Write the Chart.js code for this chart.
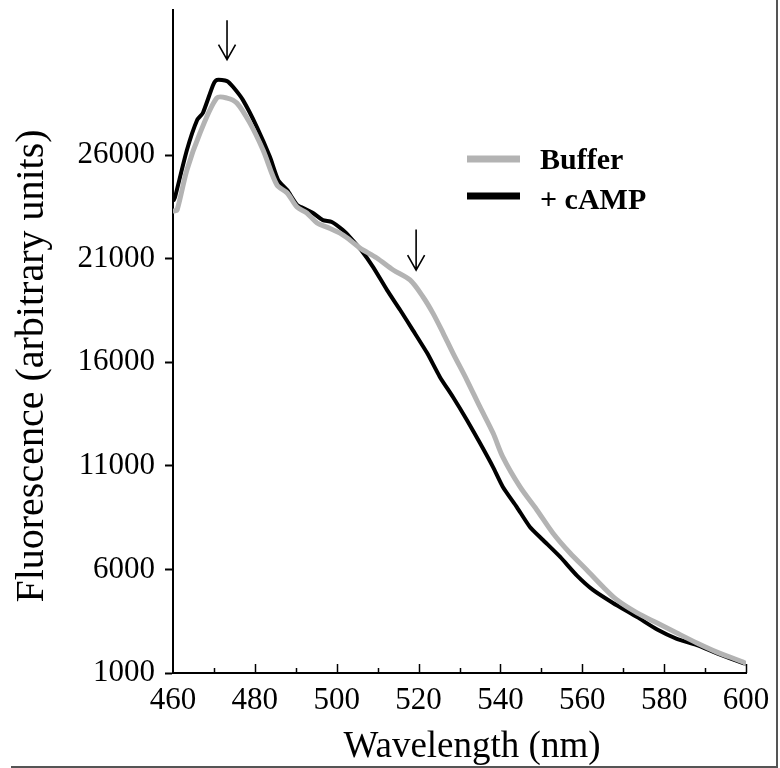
<!DOCTYPE html>
<html>
<head>
<meta charset="utf-8">
<script src="https://cdn.jsdelivr.net/npm/chart.js@4.4.0/dist/chart.umd.min.js"></script>
<style>
  html, body { margin: 0; padding: 0; background: #fff; overflow: hidden; }
  canvas { display: block; }
</style>
</head>
<body>
<canvas id="c" width="780" height="768"></canvas>
<script>
// ---- Data ----
const bufferWl  = [460.3, 461, 463.4, 466.6, 470.7, 473.2, 475.6, 478.8, 482.0, 485.4, 487.9, 490.3, 492.7, 495.2, 497.6, 500.8, 503.2, 505.7, 509.8, 513.8, 517.9, 521.1, 523.5, 526.0, 528.4, 531.8, 535.0, 538.2, 540.6, 544.8, 548.9, 552.8, 557.0, 561.1, 565.1, 568.5, 573.4, 578.3, 583.1, 588.0, 592.9, 599.3, 600];
const bufferVal = [23300, 23350, 25280, 27060, 28750, 28750, 28510, 27540, 26240, 24550, 24170, 23490, 23200, 22720, 22520, 22230, 21900, 21510, 21030, 20450, 19970, 19150, 18370, 17410, 16440, 15140, 13840, 12580, 11420, 9980, 8870, 7760, 6790, 5970, 5150, 4520, 3900, 3410, 2930, 2450, 2010, 1530, 1450];

const campWl  = [460.2, 460.5, 463.4, 465.9, 467.3, 469.8, 470.7, 473.2, 474.7, 477.1, 480.5, 483.7, 485.7, 487.9, 490.3, 491.8, 494.2, 496.6, 498.8, 501.5, 503.2, 506.0, 508.9, 512.3, 515.5, 518.6, 522.1, 525.2, 528.4, 531.8, 535.0, 538.2, 540.6, 544.0, 547.2, 550.4, 554.6, 558.7, 562.6, 567.5, 573.4, 578.3, 583.1, 588.0, 592.9, 599.3, 600];
const campVal = [23830, 23970, 26240, 27690, 28030, 29380, 29620, 29570, 29280, 28650, 27350, 25900, 24790, 24310, 23600, 23440, 23200, 22860, 22770, 22380, 22040, 21400, 20590, 19480, 18520, 17550, 16440, 15290, 14320, 13210, 12100, 10940, 9980, 9010, 8050, 7420, 6600, 5700, 5010, 4380, 3700, 3100, 2650, 2350, 1950, 1480, 1450];

const seriesNames = ['Buffer', '+ cAMP'];
const xTickLabels = [460, 480, 500, 520, 540, 560, 580, 600];
const xMinorTicks = [470, 490, 510, 530, 550, 570, 590];
const yTickLabels = [1000, 6000, 11000, 16000, 21000, 26000];
const xTitle = 'Wavelength (nm)';
const yTitle = 'Fluorescence (arbitrary units)';
// arrows: wavelength, top value, tip value
const arrowWl  = [473.2, 519.4];
const arrowTop = [32500, 22400];
const arrowTip = [30600, 20450];

const SERIF = '"Liberation Serif", "Times New Roman", serif';
const GRAY = '#b3b3b3';

function pts(xs, ys) { return xs.map((x, i) => ({ x: x, y: ys[i] })); }

const decor = {
  id: 'decor',
  afterDraw(chart) {
    const ctx = chart.ctx;
    const xs = chart.scales.x, ys = chart.scales.y;
    const area = chart.chartArea;
    ctx.save();
    // inward x-axis ticks
    ctx.strokeStyle = '#000';
    ctx.lineWidth = 1.5;
    const drawTick = (v, len) => {
      const px = Math.round(xs.getPixelForValue(v)) + 0.5;
      ctx.beginPath();
      ctx.moveTo(px, area.bottom);
      ctx.lineTo(px, area.bottom - len);
      ctx.stroke();
    };
    xTickLabels.forEach(v => { if (v !== 460) drawTick(v, 9); });
    xMinorTicks.forEach(v => drawTick(v, 5));

    // arrows
    ctx.lineWidth = 1.6;
    for (let i = 0; i < arrowWl.length; i++) {
      const ax = xs.getPixelForValue(arrowWl[i]);
      const y1 = ys.getPixelForValue(arrowTop[i]);
      const y2 = ys.getPixelForValue(arrowTip[i]);
      ctx.beginPath();
      ctx.moveTo(ax, y1); ctx.lineTo(ax, y2);
      ctx.moveTo(ax - 8.5, y2 - 15); ctx.lineTo(ax, y2); ctx.lineTo(ax + 8.5, y2 - 15);
      ctx.stroke();
    }

    // legend
    const legendCols = [GRAY, '#000'];
    const legendY = [159, 196];
    const textY = [169, 209];
    ctx.lineCap = 'butt';
    for (let i = 0; i < seriesNames.length; i++) {
      ctx.strokeStyle = legendCols[i];
      ctx.lineWidth = 7;
      ctx.beginPath();
      ctx.moveTo(467, legendY[i]); ctx.lineTo(520, legendY[i]);
      ctx.stroke();
      ctx.fillStyle = '#000';
      ctx.font = 'bold 30px ' + SERIF;
      ctx.textAlign = 'left';
      ctx.textBaseline = 'alphabetic';
      ctx.fillText(seriesNames[i], 540, textY[i]);
    }

    // axis titles
    ctx.fillStyle = '#000';
    ctx.font = '37px ' + SERIF;
    ctx.textAlign = 'center';
    ctx.textBaseline = 'alphabetic';
    ctx.fillText(xTitle, 472, 757);
    ctx.save();
    ctx.translate(43, 366);
    ctx.rotate(-Math.PI / 2);
    ctx.font = '40px ' + SERIF;
    ctx.fillText(yTitle, 0, 0);
    ctx.restore();

    // figure frame lines
    ctx.strokeStyle = '#555';
    ctx.lineWidth = 2;
    ctx.beginPath();
    ctx.moveTo(777, 0); ctx.lineTo(777, 767); ctx.lineTo(11, 767);
    ctx.stroke();
    ctx.restore();
  }
};

new Chart(document.getElementById('c'), {
  type: 'line',
  data: {
    datasets: [
      { label: seriesNames[0], data: pts(bufferWl, bufferVal), borderColor: GRAY, borderWidth: 5, pointRadius: 0, tension: 0.3, borderCapStyle: 'round', borderJoinStyle: 'round', fill: false },
      { label: seriesNames[1], data: pts(campWl, campVal), borderColor: '#000', borderWidth: 4, pointRadius: 0, tension: 0.2, borderCapStyle: 'round', borderJoinStyle: 'round', fill: false }
    ]
  },
  options: {
    responsive: false,
    devicePixelRatio: 1,
    animation: false,
    layout: { padding: { top: 10, right: 34, left: 0, bottom: 0 } },
    plugins: { legend: { display: false }, tooltip: { enabled: false } },
    scales: {
      x: {
        type: 'linear', min: 460, max: 600,
        afterBuildTicks: s => { s.ticks = xTickLabels.map(v => ({ value: v })); },
        afterFit: s => { s.height = 95; s.paddingLeft = 0; s.paddingRight = 0; },
        ticks: { autoSkip: false, maxRotation: 0, color: '#000', padding: 9, font: { family: SERIF, size: 31 }, callback: v => String(v) },
        grid: { display: true, drawOnChartArea: false, drawTicks: false },
        border: { display: true, color: '#000', width: 2 }
      },
      y: {
        type: 'linear', min: 1000, max: 33000,
        afterBuildTicks: s => { s.ticks = yTickLabels.map(v => ({ value: v })); },
        afterFit: s => { s.width = 173; s.paddingTop = 0; s.paddingBottom = 0; },
        ticks: { color: '#000', padding: 10, font: { family: SERIF, size: 31 }, callback: v => String(v) },
        grid: { display: true, drawOnChartArea: false, drawTicks: true, tickLength: 8, tickWidth: 2, tickColor: '#000' },
        border: { display: true, color: '#000', width: 2 }
      }
    }
  },
  plugins: [decor]
});
</script>
</body>
</html>
